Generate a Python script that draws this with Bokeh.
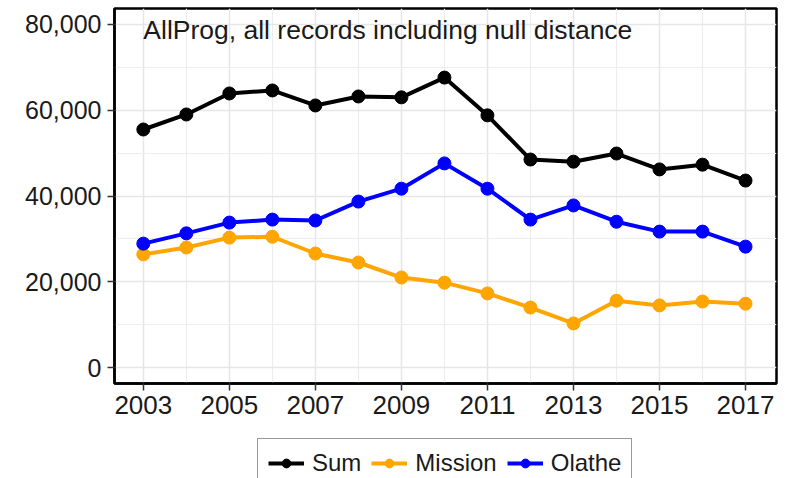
from bokeh.plotting import figure
from bokeh.layouts import column
from bokeh.models import FixedTicker, NumeralTickFormatter, Range1d, Label, Legend
from bokeh.embed import file_html
from bokeh.resources import INLINE

years = list(range(2003, 2018))
sum_vals = [55500, 59000, 63900, 64600, 61100, 63200, 63000, 67600, 58800, 48500, 48000, 49900, 46200, 47300, 43600]
mission_vals = [26400, 28000, 30300, 30500, 26600, 24500, 21000, 19800, 17300, 14000, 10300, 15600, 14500, 15400, 14900]
olathe_vals = [28900, 31300, 33800, 34500, 34300, 38700, 41700, 47600, 41700, 34500, 37800, 34000, 31700, 31700, 28200]
x_ticks = [2003, 2005, 2007, 2009, 2011, 2013, 2015, 2017]
x_minor = [2004, 2006, 2008, 2010, 2012, 2014, 2016]
y_ticks = [0, 20000, 40000, 60000, 80000]
y_minor = [10000, 30000, 50000, 70000]
title_text = "AllProg, all records including null distance"

FONT = "Liberation Sans"
series = [("Sum", sum_vals, "black"), ("Mission", mission_vals, "#FFA500"), ("Olathe", olathe_vals, "#0000FF")]

p = figure(width=780, height=430, output_backend="svg", toolbar_location=None,
           x_range=Range1d(2002.33, 2017.72), y_range=Range1d(-3700, 83700),
           min_border_left=114, min_border_right=4, min_border_top=8, min_border_bottom=47)
p.background_fill_color = "white"
p.border_fill_color = "white"
p.outline_line_color = "black"
p.outline_line_width = 2.5

for name, vals, col in series:
    p.line(years, vals, line_color=col, line_width=4)
    p.scatter(years, vals, size=13, fill_color=col, line_color=col)

p.xaxis.ticker = FixedTicker(ticks=x_ticks, minor_ticks=x_minor)
p.yaxis.ticker = FixedTicker(ticks=y_ticks, minor_ticks=y_minor)
p.yaxis.formatter = NumeralTickFormatter(format="0,0")

for ax in (p.xaxis[0], p.yaxis[0]):
    ax.axis_line_color = "black"
    ax.axis_line_width = 2.5
    ax.major_tick_line_color = "#333333"
    ax.major_tick_line_width = 1.5
    ax.major_tick_out = 7
    ax.major_tick_in = 0
    ax.minor_tick_line_color = None
    ax.major_label_text_font = FONT
    ax.major_label_text_color = "#1a1a1a"
p.yaxis.major_label_text_font_size = "25px"
p.xaxis.major_label_text_font_size = "26px"
p.yaxis.major_label_standoff = 6
p.xaxis.major_label_standoff = 5

for g in (p.xgrid[0], p.ygrid[0]):
    g.grid_line_color = "#e6e6e6"
    g.grid_line_width = 1.5
    g.minor_grid_line_color = "#ededed"
    g.minor_grid_line_width = 1.2

p.add_layout(Label(x=2003, y=78600, text=title_text, text_font=FONT, text_font_size="26.5px",
                   text_color="#1a1a1a", text_baseline="middle", text_align="left"))

# legend panel below the chart
p2 = figure(width=780, height=48, output_backend="svg", toolbar_location=None,
            x_range=Range1d(0, 1), y_range=Range1d(0, 1),
            min_border_left=0, min_border_right=0, min_border_top=0, min_border_bottom=0)
p2.axis.visible = False
p2.grid.visible = False
p2.outline_line_color = None
p2.background_fill_color = "white"
p2.border_fill_color = "white"
items = []
for name, vals, col in series:
    l = p2.line(years, vals, line_color=col, line_width=4)
    s = p2.scatter(years, vals, size=12, fill_color=col, line_color=col)
    items.append((name, [l, s]))

legend = Legend(items=items, orientation="horizontal", location=(143, -10))
legend.label_text_font = FONT
legend.label_text_font_size = "24px"
legend.label_text_color = "#1a1a1a"
legend.glyph_width = 36
legend.glyph_height = 22
legend.label_standoff = 8
legend.spacing = 10
legend.padding = 10
legend.margin = 0
legend.border_line_color = "#333333"
legend.border_line_width = 1.5
legend.background_fill_alpha = 1
p2.add_layout(legend, "center")

layout = column(p, p2, spacing=0)
open("out.html", "w").write(file_html(layout, INLINE))
